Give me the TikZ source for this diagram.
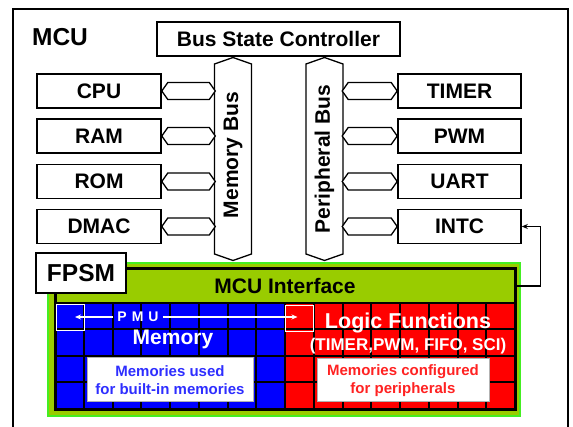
\documentclass[tikz,border=0pt]{standalone}
\usepackage{fontspec}
\setmainfont{Liberation Sans}
\usetikzlibrary{arrows.meta,calc}
\definecolor{fpolive}{HTML}{99CC00}
\definecolor{fpgreen}{HTML}{44EE22}
\definecolor{fpblue}{HTML}{0000FF}
\definecolor{fpred}{HTML}{FF0000}
\definecolor{txtblue}{HTML}{2E2EFF}
\definecolor{txtred}{HTML}{FF2222}
\begin{document}
\begin{tikzpicture}[x=1pt,y=-1pt,
  f21/.style={font=\bfseries\fontsize{21}{24}\selectfont},
  box/.style={draw,line width=1.6pt,fill=white,minimum width=124pt,minimum height=34pt,inner sep=0pt,f21},
  rbox/.style={box,minimum width=123pt},
  link/.style={draw,line width=1.3pt,fill=white,line join=miter},
  bus/.style={draw,line width=1.3pt,fill=white},
  pmuarrow/.style={draw=white,line width=1.3pt,-{Stealth[length=6pt,width=5pt]}},
  pmusq/.style={draw=white,line width=1.2pt,minimum width=28pt,minimum height=26.5pt,inner sep=0pt},
  membox/.style={draw=gray!60,line width=1pt,fill=white,align=center,inner sep=0pt,font=\bfseries\fontsize{15}{18}\selectfont}
]
\useasboundingbox (0,0) rectangle (573,427);
\fill[white] (0,0) rectangle (573,427);
% outer MCU frame
\draw[line width=2pt] (13,427) -- (13,9) -- (568,9) -- (568,427);
\node[font=\bfseries\fontsize{24.5}{28}\selectfont,inner sep=0pt] (mcu) at (60,37) {MCU};

% bus state controller
\node[box,minimum width=243pt] (bsc) at (278.5,39) {Bus State Controller};

% buses
\draw[bus] (233,57.5) -- (251.5,64) -- (251.5,254) -- (233,260.5) -- (214.5,254) -- (214.5,64) -- cycle;
\node[f21,rotate=90] (mbus) at (233,155) {Memory Bus};
\draw[bus] (324.5,57.5) -- (343,64) -- (343,254) -- (324.5,260.5) -- (306,254) -- (306,64) -- cycle;
\node[f21,rotate=90] (pbus) at (324.5,159) {Peripheral Bus};

% left boxes
\node[box] (cpu)  at (99,91)    {CPU};
\node[box] (ram)  at (99,136)   {RAM};
\node[box] (rom)  at (99,181.5) {ROM};
\node[box] (dmac) at (99,226.5) {DMAC};
% right boxes
\node[rbox] (timer) at (459.5,91)    {TIMER};
\node[rbox] (pwm)   at (459.5,136)   {PWM};
\node[rbox] (uart)  at (459.5,181.5) {UART};
\node[rbox] (intc)  at (459.5,226.5) {INTC};

% bus links
\foreach \n in {cpu,ram,rom,dmac}
  \draw[link] (\n.east) -- ++(6,-8.5) -- ++(41.5,0) -- ++(6,8.5) -- ++(-6,8.5) -- ++(-41.5,0) -- cycle;
\foreach \n in {timer,pwm,uart,intc}
  \draw[link] (\n.west) -- ++(-6,-8.5) -- ++(-43,0) -- ++(-6,8.5) -- ++(6,8.5) -- ++(43,0) -- cycle;

% FPSM area
\draw[draw=fpgreen,line width=2pt,fill=fpolive] (48,263) rectangle (520,416);
\fill[fpblue] (55,303) rectangle (285,409);
\fill[fpred] (285,303) rectangle (515,409);
\foreach \i in {1,...,15}
  \draw[line width=2pt] ({55+28.75*\i},303) -- ({55+28.75*\i},409);
\foreach \j in {1,2,3}
  \draw[line width=2pt] (55,{303+26.5*\j}) -- (515,{303+26.5*\j});
\draw[line width=3pt] (55,269) rectangle (515,410);
\draw[line width=2.5pt] (55,303) -- (515,303);
\node[f21,minimum width=460pt,minimum height=34pt,inner sep=0pt] (ifbar) at (285,286) {MCU Interface};

\node[box,minimum width=90pt,minimum height=40pt,font=\bfseries\fontsize{24.5}{28}\selectfont] (fpsm) at (81,273) {FPSM};

% INTC connection
\draw[line width=1.3pt,-{Stealth[length=6pt,width=5pt]}] (ifbar.east) -- ++(25,0) |- (intc.east);

% PMU
\node[pmusq] (pmuA) at (70.5,317.5) {};
\node[pmusq] (pmuB) at (299.5,318.5) {};
\node[text=white,font=\bfseries\fontsize{14}{16}\selectfont,inner sep=4pt] (pmu) at (138,317) {P\hspace{5pt}M\hspace{5pt}U};
\coordinate (pmuAt) at ($(pmuA.center)+(4.5,-0.5)$);
\coordinate (pmuBt) at ($(pmuB.center)+(-2,-1.5)$);
\draw[pmuarrow] (pmu.west) -- (pmuAt);
\draw[pmuarrow] (pmu.east) -- (pmuBt);

\node[f21,text=white] (mem) at (173,339) {Memory};
\node[font=\bfseries\fontsize{21.5}{24}\selectfont,text=white] (logic) at (408,323) {Logic Functions};
\node[font=\bfseries\fontsize{17}{20}\selectfont,text=white] (lfl) at (408,346) {(TIMER,PWM, FIFO, SCI)};

\node[membox,minimum width=166pt,minimum height=44pt,text=txtblue] (mbox) at (170,380) {Memories used\\for built-in memories};
\node[membox,minimum width=172pt,minimum height=43pt,text=txtred] (lbox) at (403,380.5) {Memories configured\\for peripherals};
\end{tikzpicture}
\end{document}
